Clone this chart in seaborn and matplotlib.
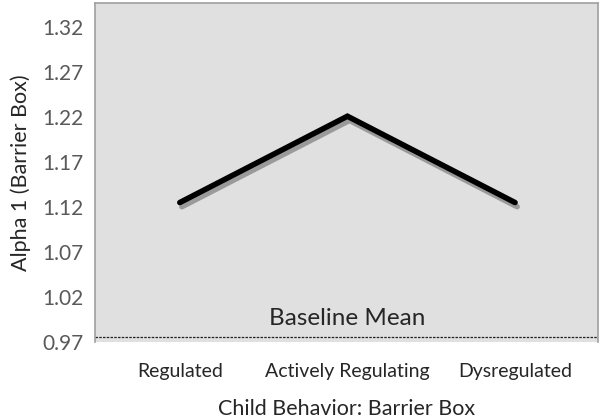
import numpy as np
import pandas as pd
import seaborn as sns
import matplotlib.pyplot as plt
import matplotlib.patheffects as pe

behaviors = ["Regulated", "Actively Regulating", "Dysregulated"]
alpha1 = [1.125, 1.221, 1.125]
baseline_mean = 0.976
yticks = [0.97, 1.02, 1.07, 1.12, 1.17, 1.22, 1.27, 1.32]

df = pd.DataFrame({"behavior": behaviors, "alpha1": alpha1})

sns.set_style("white")
plt.rcParams['font.family'] = ['Lato', 'DejaVu Sans']

fig = plt.figure(figsize=(6, 4.18), dpi=100)
ax = fig.add_axes([0.158, 0.182, 0.839, 0.811])
ax.set_facecolor("#e0e0e0")

sns.lineplot(data=df, x="behavior", y="alpha1", sort=False, color="black", lw=4,
             solid_joinstyle="miter", ax=ax,
             path_effects=[pe.SimpleLineShadow(offset=(1.5, -3), shadow_color="#555555", alpha=0.5),
                           pe.Normal()])

ax.axhline(baseline_mean, color="#222222", ls=(0, (2, 1)), lw=0.9)
ax.text(1, 0.984, "Baseline Mean", ha="center", va="bottom", fontsize=17.5)

ax.set_xlim(-0.507, 2.496)
ax.set_ylim(0.97, 1.347)
ax.set_yticks(yticks)
ax.set_yticklabels([f"{v:.2f}" for v in yticks], color="#595959", fontsize=15)
ax.tick_params(axis="x", labelsize=14, pad=15, length=0)
ax.tick_params(axis="y", pad=8, length=0)

ax.set_xlabel("Child Behavior: Barrier Box", fontsize=15.5, labelpad=14)
ax.set_ylabel("Alpha 1 (Barrier Box)", fontsize=15.5, labelpad=8)

for s in ax.spines.values():
    s.set_color("#a0a0a0")
    s.set_linewidth(1.2)
ax.spines["bottom"].set_visible(False)

fig.savefig("out.png", dpi=100)
